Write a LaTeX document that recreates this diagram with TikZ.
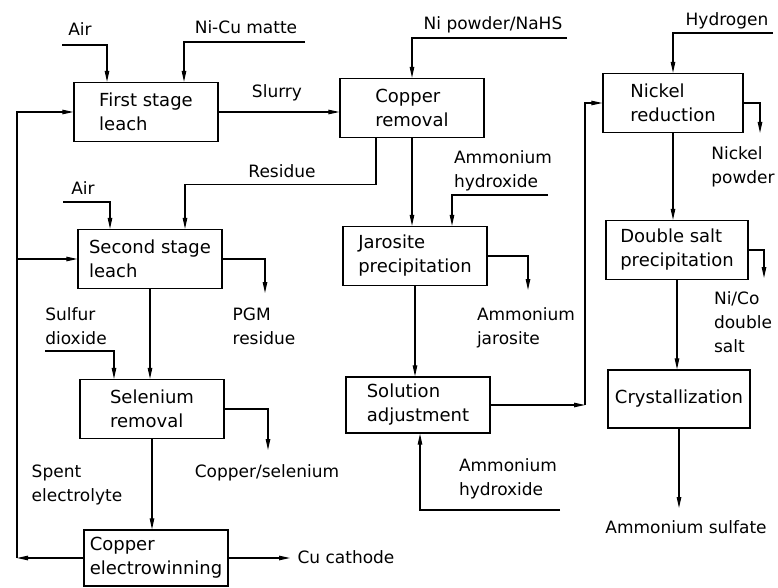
\documentclass[tikz,border=0pt]{standalone}
\usepackage{fontspec}
\setmainfont{DejaVu Sans}
\usetikzlibrary{positioning, arrows.meta, calc}

\begin{document}
\begin{tikzpicture}[x=1bp, y=-1bp,
  font=\fontsize{17bp}{24bp}\selectfont,
  box/.style={draw, line width=1.3bp, minimum width=144bp, minimum height=59bp, align=left, inner sep=2bp, font=\fontsize{18bp}{24bp}\selectfont},
  lbl/.style={align=left, inner sep=0pt},
  flow/.style={-{Triangle[length=11bp, width=4.5bp]}, line width=1.1bp}]
\useasboundingbox (0,0) rectangle (778,588);

% process units
\node[box] (fs) at (146,112) {First stage\\leach};
\node[box] (cr) at (412,108) {Copper\\removal};
\node[box] (ss) at (150,259) {Second stage\\leach};
\node[box] (sr) at (152,409) {Selenium\\removal};
\node[box, minimum height=56bp] (ew) at (156,558) {Copper\\electrowinning};
\node[box] (jp) at (415,256) {Jarosite\\precipitation};
\node[box, minimum height=56bp] (sa) at (418,405) {Solution\\adjustment};
\node[box, minimum width=140bp] (nr) at (673,103) {Nickel\\reduction};
\node[box, minimum width=142bp] (ds) at (677,250) {Double salt\\precipitation};
\node[box, minimum width=142bp, minimum height=58bp] (cz) at (679,399) {Crystallization};

% stream labels
\node[lbl] (air1) at (80,29) {Air};
\node[lbl] (matte) at (246,27) {Ni-Cu matte};
\node[lbl] (slurry) at (277,93) {Slurry};
\node[lbl] (residue) at (282,171) {Residue};
\node[lbl] (air2) at (83,188) {Air};
\node[lbl] (nipow) at (493,25) {Ni powder/NaHS};
\node[lbl] (amhyd1) at (503,171) {Ammonium\\hydroxide};
\node[lbl] (hydro) at (727,21) {Hydrogen};
\node[lbl] (nickel) at (743,167) {Nickel\\powder};
\node[lbl] (nico) at (743,322) {Ni/Co\\double\\salt};
\node[lbl] (amsulf) at (686,527) {Ammonium sulfate};
\node[lbl] (pgm) at (264,326) {PGM\\residue};
\node[lbl] (so2) at (76,326) {Sulfur\\dioxide};
\node[lbl] (amjar) at (526,328) {Ammonium\\jarosite};
\node[lbl] (cuse) at (267,473) {Copper/selenium};
\node[lbl] (spent) at (77,485) {Spent\\electrolyte};
\node[lbl] (cucat) at (346,557) {Cu cathode};
\node[lbl] (amhyd2) at (508,479) {Ammonium\\hydroxide};

% free ends of the streams
\coordinate (inair1) at (62,45);
\coordinate (inmatte) at (305,42);
\coordinate (innipow) at (567,38);
\coordinate (inair2) at (63,202);
\coordinate (inso2) at (45,351);
\coordinate (inamhyd1) at (548,195);
\coordinate (inamhyd2) at (560,510);
\coordinate (inhydro) at (773,33);
\coordinate (outpgm) at (265,293);
\coordinate (outcuse) at (268,450);
\coordinate (outcucat) at (290,558);
\coordinate (outamjar) at (528,290);
\coordinate (outnickel) at (760,133);
\coordinate (outnico) at (764,278);
\coordinate (outamsulf) at (681,508);
\coordinate (spentcorner) at (17,558);
\coordinate (nibend) at (585,405);

% feeds
\draw[flow] (inair1) -| ([xshift=-39bp]fs.north);
\draw[flow] (inmatte) -| ([xshift=38bp]fs.north);
\draw[flow] (innipow) -| (cr.north);
\draw[flow] (inair2) -| ([xshift=-40bp]ss.north);
\draw[flow] (inso2) -| ([xshift=-38bp]sr.north);
\draw[flow] (inamhyd1) -| ([xshift=37bp]jp.north);
\draw[flow] (inamhyd2) -| ([xshift=2bp]sa.south);
\draw[flow] (inhydro) -| (nr.north);

% main line
\draw[flow] (fs.east) -- (fs.east -| cr.west);
\draw[flow] ([xshift=-36bp]cr.south) -- ++(0,46) -| ([xshift=35bp]ss.north);
\draw[flow] (ss.south) -- (ss.south |- sr.north);
\draw[flow] (sr.south) -- (sr.south |- ew.north);
\draw[flow] (cr.south) -- (cr.south |- jp.north);
\draw[flow] (jp.south) -- (jp.south |- sa.north);
\draw[flow] (sa.east) -- (nibend);
\draw[flow] (nibend) |- (nr.west);
\draw[flow] (nr.south) -- (nr.south |- ds.north);
\draw[flow] (ds.south) -- (ds.south |- cz.north);

% spent electrolyte recycle
\draw[flow] (ew.west) -- (spentcorner);
\draw[flow] (spentcorner) |- (fs.west);
\draw[flow] (spentcorner |- ss.west) -- (ss.west);

% products
\draw[flow] (ss.east) -| (outpgm);
\draw[flow] (sr.east) -| (outcuse);
\draw[flow] (ew.east) -- (outcucat);
\draw[flow] (jp.east) -| (outamjar);
\draw[flow] (nr.east) -| (outnickel);
\draw[flow] (ds.east) -| (outnico);
\draw[flow] (cz.south) -- (cz.south |- outamsulf);
\end{tikzpicture}
\end{document}
